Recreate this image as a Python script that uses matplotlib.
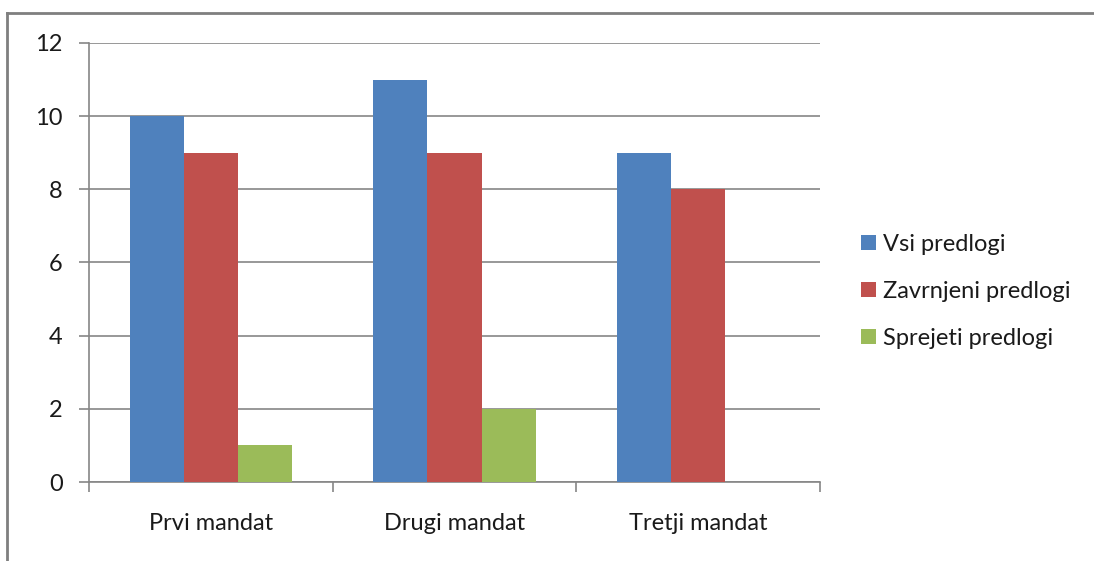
import matplotlib
matplotlib.use("Agg")
import matplotlib.pyplot as plt
from matplotlib.lines import Line2D
import numpy as np

# podatki
mandati = ["Prvi mandat", "Drugi mandat", "Tretji mandat"]
vsi = [10, 11, 9]
zavrnjeni = [9, 9, 8]
sprejeti = [1, 2, 0]
serije = ["Vsi predlogi", "Zavrnjeni predlogi", "Sprejeti predlogi"]
barve = ["#4F81BD", "#C0504D", "#9BBB59"]
y_ticks = [0, 2, 4, 6, 8, 10, 12]

plt.rcParams['font.family'] = ['Lato', 'DejaVu Sans']
grid_col = "#868686"
fs = 17

fig = plt.figure(figsize=(10.94, 5.61), dpi=100)
ax = fig.add_axes([0.0814, 0.1408, 0.668, 0.7826])

x = np.arange(len(mandati))
w = 1 / 4.5
for i, (vals, name, col) in enumerate(zip([vsi, zavrnjeni, sprejeti], serije, barve)):
    ax.bar(x + (i - 1) * w, vals, width=w, color=col, label=name, zorder=3)

ax.set_xlim(-0.5, 2.5)
ax.set_ylim(0, 12)
ax.set_yticks(y_ticks)
ax.yaxis.grid(True, color=grid_col, linewidth=1.2, zorder=0)

# kategorije: kljukice na mejah, napisi v sredini
ax.set_xticks([-0.5, 0.5, 1.5, 2.5])
ax.set_xticklabels([])
ax.set_xticks(x, minor=True)
ax.set_xticklabels(mandati, minor=True, fontsize=fs, color="#1a1a1a")
ax.tick_params(axis='x', which='major', direction='out', length=7, color=grid_col, width=1.2)
ax.tick_params(axis='x', which='minor', length=0, pad=22)
ax.tick_params(axis='y', direction='out', length=7, color=grid_col, width=1.2,
               pad=12, labelsize=fs, labelcolor="#1a1a1a")

for s in ['top', 'right']:
    ax.spines[s].set_visible(False)
for s in ['left', 'bottom']:
    ax.spines[s].set_color(grid_col)
    ax.spines[s].set_linewidth(1.2)

fig.legend(loc='center left', bbox_to_anchor=(0.768, 0.48), frameon=False,
           fontsize=fs, handlelength=0.6, handleheight=0.6, handletextpad=0.3,
           labelspacing=1.1, labelcolor="#1a1a1a")

# okvir grafikona
fig.add_artist(Line2D([7 / 1094, 7 / 1094], [0, 1 - 13 / 561], color="#7f7f7f", linewidth=2))
fig.add_artist(Line2D([7 / 1094, 1], [1 - 13 / 561, 1 - 13 / 561], color="#7f7f7f", linewidth=2))

fig.savefig("out.png", dpi=100)
